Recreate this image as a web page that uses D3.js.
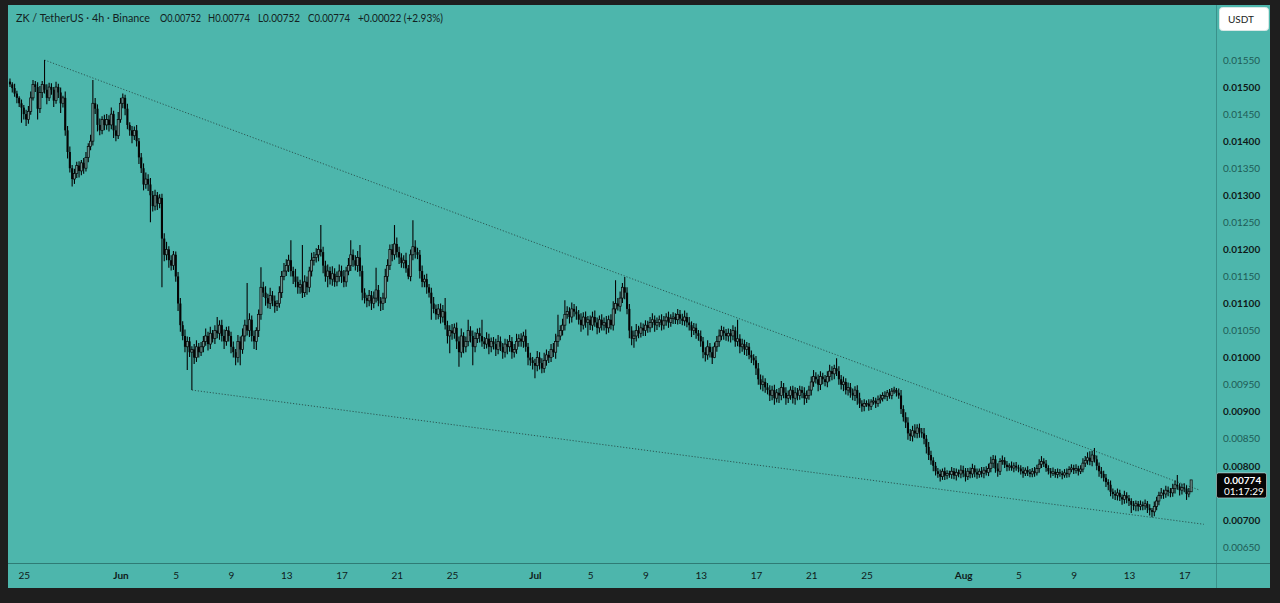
<!DOCTYPE html>
<html>
<head>
<meta charset="utf-8">
<script src="https://cdn.jsdelivr.net/npm/d3@7"></script>
<style>
  body { margin: 0; background: #1e1e1e; }
  svg { display: block; font-family: Lato, "Noto Sans", sans-serif; }
</style>
</head>
<body>
<svg id="chart" width="1280" height="603"></svg>
<script>
// prices are kept in units of 0.00001 USDT
const unit = 1e-5;
const firstOpen = 1510;
const startTime = "2025-05-24T00:00:00Z";

// 4h closes, one line per day (6 candles)
const closes = [
  1505,1498,1488,1480,1470,1462, 1450,1440,1455,1480,1505,1500, 1460,1490,1505,1495,1480,1500,
  1495,1475,1500,1490,1470,1480, 1420,1380,1350,1330,1340,1355, 1345,1360,1350,1370,1390,1400,
  1470,1460,1430,1420,1440,1430, 1440,1430,1450,1420,1410,1440, 1470,1480,1460,1430,1420,1410,
  1420,1400,1370,1350,1320,1330, 1320,1300,1280,1300,1285,1295, 1220,1190,1200,1180,1170,1190,
  1150,1100,1060,1040,1020,1030, 1010,1015,1000,1020,1010,1020, 1030,1040,1025,1045,1035,1050,
  1045,1060,1040,1030,1050,1040, 1020,1010,1000,1030,1015,1040, 1060,1050,1070,1040,1030,1050,
  1080,1130,1120,1110,1100,1115, 1105,1095,1100,1120,1150,1160, 1170,1180,1160,1150,1140,1130,
  1135,1120,1140,1130,1160,1180, 1185,1190,1200,1195,1170,1150, 1160,1145,1155,1140,1150,1160,
  1150,1140,1160,1170,1190,1180, 1170,1185,1160,1120,1110,1105, 1115,1100,1110,1125,1105,1100,
  1110,1150,1170,1200,1190,1210, 1195,1185,1175,1180,1165,1150, 1190,1205,1195,1190,1160,1140,
  1145,1130,1120,1100,1090,1080, 1090,1075,1085,1060,1040,1050, 1045,1055,1030,1010,1040,1020,
  1030,1050,1040,1020,1035,1045, 1040,1030,1025,1035,1020,1030, 1025,1015,1030,1020,1010,1025,
  1020,1030,1010,1015,1030,1035, 1030,1040,1020,1000,995,990,   985,1000,990,980,995,1005,
  1000,1015,1010,1030,1040,1050, 1060,1080,1085,1075,1090,1085, 1080,1070,1060,1075,1065,1070,
  1060,1075,1065,1055,1070,1060, 1065,1055,1070,1060,1090,1100, 1095,1110,1130,1120,1090,1050,
  1035,1040,1050,1045,1055,1050, 1060,1055,1065,1070,1060,1065, 1070,1060,1068,1075,1065,1072,
  1075,1070,1080,1072,1068,1075, 1065,1060,1050,1055,1045,1040, 1030,1010,1005,1020,1010,1000,
  1020,1030,1040,1050,1045,1040, 1045,1040,1050,1030,1035,1020, 1025,1015,1020,1005,1000,995,
  980,960,950,955,945,940,       930,940,925,935,930,945,       935,925,930,940,925,935,
  930,940,935,925,930,940,       955,965,960,950,965,960,       955,965,975,970,980,975,
  960,950,955,940,945,935,       930,940,925,915,910,915,       915,910,918,920,915,922,
  925,930,928,935,930,938,       940,935,930,905,890,880,       860,855,865,860,870,862,
  860,850,835,820,810,800,       790,785,780,790,782,786,       784,790,782,788,785,792,
  786,780,790,785,795,788,       784,790,786,792,788,795,       805,812,795,790,808,810,
  802,798,800,796,800,797,       795,790,786,792,788,785,       790,787,795,803,808,804,
  796,790,786,789,784,788,       786,783,787,785,793,796,       792,795,790,794,805,810,
  815,808,820,812,800,790,       785,778,770,765,752,748,       745,750,742,738,745,740,
  735,728,726,730,725,728,       726,730,722,718,715,725,       735,745,750,748,755,752,
  750,758,765,762,755,760,       758,748,752,774
];

// wick above the body top
const upWick = [
  6,4,8,5,3,7, 5,8,10,12,8,6, 9,12,6,45,10,8, 7,5,10,6,9,4, 12,8,10,6,9,7, 8,5,9,10,6,12,
  43,10,8,12,6,9, 10,8,12,6,9,14, 10,8,6,9,5,8, 7,10,6,8,9,12, 9,12,8,10,6,7, 8,10,14,6,9,7,
  6,8,10,7,12,9, 8,6,10,12,7,9, 10,14,8,12,6,10, 25,9,10,12,7,8, 8,10,6,12,9,14, 10,78,12,8,10,6,
  9,37,10,12,8,14, 8,10,6,12,10,15, 12,10,37,8,14,10, 9,73,12,10,8,14, 10,12,8,45,10,9, 12,8,14,10,9,12,
  10,12,8,14,27,10, 9,12,23,10,8,6, 10,8,12,41,9,7, 10,14,12,9,10,35, 12,10,8,9,14,6, 10,49,12,8,9,10,
  8,10,6,9,12,8, 9,10,12,25,8,10, 12,8,10,9,14,7, 9,20,8,10,12,9, 10,30,8,12,9,7, 8,10,12,9,7,10,
  9,12,8,10,14,8, 10,8,12,7,9,6, 8,12,10,9,14,10, 7,10,12,14,39,10, 12,26,10,8,12,9, 10,8,12,9,10,7,
  8,10,12,9,8,10, 9,12,8,10,14,43, 10,12,8,19,10,9, 8,10,12,9,10,8, 9,8,10,12,8,9, 8,10,9,7,10,8,
  9,7,10,8,9,12, 8,10,7,9,8,6, 10,8,9,12,7,10, 8,10,12,9,7,8, 9,8,10,7,35,8, 10,8,9,7,8,6,
  8,10,9,12,7,8, 9,8,10,7,9,12, 8,10,9,7,8,10, 9,8,7,10,9,8, 10,12,8,9,10,7, 8,10,12,9,7,19,
  9,8,10,7,9,8, 8,7,9,10,6,8, 6,8,5,7,6,8, 7,6,8,5,7,6, 6,4,8,10,7,9, 10,8,9,12,7,8,
  8,10,7,9,8,6, 7,6,8,5,7,6, 5,8,6,7,5,9, 8,10,6,7,9,6, 7,5,8,6,7,9, 12,8,7,10,6,9,
  6,7,5,8,6,7, 5,6,8,5,7,6, 6,8,7,9,10,6, 7,5,6,8,5,7, 6,5,7,8,6,7, 6,8,5,7,9,8,
  10,12,8,13,7,6, 8,6,7,5,8,6, 7,8,6,5,9,6, 6,5,7,6,5,8, 6,8,5,7,4,9, 8,7,9,6,8,7,
  7,9,8,18,6,7, 8,6,7,0
];

// wick below the body bottom
const downWick = [
  5,8,6,10,7,28, 10,12,8,6,5,9, 20,8,10,7,12,6, 9,12,6,10,18,8, 10,12,8,14,9,8, 12,8,10,6,9,7,
  8,10,12,9,7,10, 9,12,8,14,10,6, 6,9,12,8,10,14, 8,10,12,9,11,8, 12,50,10,8,12,9, 90,12,10,14,9,8,
  10,14,12,8,10,43, 9,70,12,8,10,7, 10,8,12,9,7,10, 9,12,10,14,8,10, 12,10,14,9,29,8, 10,9,12,10,14,16,
  12,10,8,14,9,10, 10,12,9,8,10,7, 9,12,10,14,10,12, 12,10,8,14,9,10, 10,9,12,8,14,10, 20,10,12,9,8,10,
  12,10,9,8,10,12, 9,12,10,14,10,12, 10,12,9,8,10,14, 12,9,10,8,12,9, 10,12,9,10,8,5, 9,10,12,8,14,10,
  10,12,9,30,8,10, 9,12,10,8,14,32, 12,10,14,27,10,12, 10,9,12,34,10,8, 12,10,9,8,14,10, 10,12,9,8,12,10,
  14,9,12,10,8,10, 10,12,9,14,10,12, 23,10,12,9,8,10, 10,8,9,12,10,8, 9,10,8,12,10,9, 10,9,12,8,10,24,
  9,10,8,12,9,10, 10,12,9,8,10,9, 8,10,9,12,10,14, 12,17,10,9,8,10, 10,9,8,10,12,9, 9,10,8,9,10,8,
  10,8,9,10,8,9, 9,10,12,8,10,9, 10,11,12,9,10,12, 1,9,10,8,12,9, 10,12,8,10,9,12, 9,10,12,8,10,9,
  12,10,9,12,10,8, 10,9,12,8,14,9, 10,12,9,8,10,12, 9,8,10,12,9,8, 10,9,8,12,10,9, 8,10,9,12,10,9,
  10,9,12,8,10,9, 9,10,12,8,10,9, 6,8,7,5,8,6, 7,6,5,8,6,7, 5,7,6,9,8,10, 12,9,10,8,9,10,
  8,10,12,9,8,10, 8,7,9,6,8,7, 6,8,7,9,6,8, 7,9,6,8,7,9, 8,6,7,9,6,7, 7,9,8,10,7,6,
  6,8,7,5,8,6, 7,6,8,5,7,6, 6,7,5,8,7,6, 7,6,8,5,6,7, 6,8,5,7,6,5, 7,6,8,5,6,7,
  8,7,9,6,8,10, 8,7,9,10,8,9, 8,9,7,10,8,9, 9,15,8,10,9,7, 8,7,9,10,10,8, 7,8,6,9,7,8,
  8,7,9,6,10,8, 7,11,6,0
];

// price scale labels (0.00750 sits under the last-price tag and is not shown)
const priceTicks = [0.0065, 0.007, 0.008, 0.0085, 0.009, 0.0095, 0.01, 0.0105,
  0.011, 0.0115, 0.012, 0.0125, 0.013, 0.0135, 0.014, 0.0145, 0.015, 0.0155];

// time scale labels
const dateTicks = ["2025-05-25", "2025-06-01", "2025-06-05", "2025-06-09", "2025-06-13",
  "2025-06-17", "2025-06-21", "2025-06-25", "2025-07-01", "2025-07-05", "2025-07-09",
  "2025-07-13", "2025-07-17", "2025-07-21", "2025-07-25", "2025-08-01", "2025-08-05",
  "2025-08-09", "2025-08-13", "2025-08-17"];

// drawn trend lines: [time, price]
const upperLine = [["2025-05-26T12:00:00Z", 0.0155], ["2025-08-18T03:00:00Z", 0.00755]];
const lowerLine = [["2025-06-06T04:00:00Z", 0.0094], ["2025-08-18T10:00:00Z", 0.00692]];

const headerParts = [
  { text: "ZK / TetherUS · 4h · Binance", x: 16, w: 134 },
  { text: "O0.00752", x: 160, w: 41 },
  { text: "H0.00774", x: 208, w: 42 },
  { text: "L0.00752", x: 258, w: 42 },
  { text: "C0.00774", x: 308, w: 42 },
  { text: "+0.00022 (+2.93%)", x: 358, w: 85 },
];
const lastPrice = 0.00774;
const countdown = "01:17:29";

const bg = "#4db6ac";
const frame = { left: 8, top: 5, right: 1270, bottom: 588 };
const plot = { left: 8, top: 5, right: 1216, bottom: 563 };

const t0 = new Date(startTime).getTime();
const candles = closes.map((c, i) => {
  const o = i ? closes[i - 1] : firstOpen;
  return {
    t: new Date(t0 + i * 4 * 3600 * 1000),
    o: o * unit,
    c: c * unit,
    h: (Math.max(o, c) + upWick[i]) * unit,
    l: (Math.min(o, c) - downWick[i]) * unit,
  };
});

const x = d3.scaleUtc()
  .domain([new Date("2025-06-01T00:00:00Z"), new Date("2025-08-01T00:00:00Z")])
  .range([120.5, 963.2]);
const y = d3.scaleLinear().domain([0.0065, 0.0155]).range([547, 60]);

const svg = d3.select("#chart");

svg.append("rect")
  .attr("x", frame.left).attr("y", frame.top)
  .attr("width", frame.right - frame.left).attr("height", frame.bottom - frame.top)
  .attr("fill", bg);

svg.append("clipPath").attr("id", "plotclip")
  .append("rect")
  .attr("x", plot.left).attr("y", plot.top)
  .attr("width", plot.right - plot.left).attr("height", plot.bottom - plot.top);

const g = svg.append("g").attr("clip-path", "url(#plotclip)");

// Trend lines
g.selectAll("line.trend")
  .data([upperLine, lowerLine])
  .enter().append("line")
  .attr("class", "trend")
  .attr("x1", d => x(new Date(d[0][0]))).attr("y1", d => y(d[0][1]))
  .attr("x2", d => x(new Date(d[1][0]))).attr("y2", d => y(d[1][1]))
  .attr("stroke", "#2b5753")
  .attr("stroke-width", 1)
  .attr("stroke-dasharray", "1.2,1.8");

// Candles
const bodyW = 2.1;
const cg = g.append("g");
cg.selectAll("line.wick")
  .data(candles)
  .enter().append("line")
  .attr("class", "wick")
  .attr("x1", d => x(d.t)).attr("x2", d => x(d.t))
  .attr("y1", d => y(d.h)).attr("y2", d => y(d.l))
  .attr("stroke", "#050505")
  .attr("stroke-width", 1.1);

cg.selectAll("rect.body")
  .data(candles)
  .enter().append("rect")
  .attr("class", "body")
  .attr("x", d => x(d.t) - bodyW / 2)
  .attr("width", bodyW)
  .attr("y", d => y(Math.max(d.o, d.c)))
  .attr("height", d => Math.max(1, Math.abs(y(d.o) - y(d.c))))
  .attr("fill", d => (d.c >= d.o ? "#6d9490" : "#050505"))
  .attr("stroke", "#050505")
  .attr("stroke-width", d => (d.c >= d.o ? 0.7 : 0));

// Separators
svg.append("line")
  .attr("x1", plot.right + 0.5).attr("x2", plot.right + 0.5)
  .attr("y1", frame.top).attr("y2", frame.bottom)
  .attr("stroke", "#3a918a").attr("stroke-width", 1);
svg.append("line")
  .attr("x1", frame.left).attr("x2", frame.right)
  .attr("y1", plot.bottom + 0.5).attr("y2", plot.bottom + 0.5)
  .attr("stroke", "#2f7b75").attr("stroke-width", 1);

// Price axis
const fmtPrice = d3.format(".5f");
const isMajor = v => Math.abs(Math.round(v * 1000) - v * 1000) < 1e-6;
const yAxis = svg.append("g")
  .attr("transform", `translate(${plot.right + 1},0)`)
  .call(d3.axisRight(y).tickValues(priceTicks).tickFormat(fmtPrice).tickSize(0).tickPadding(6));
yAxis.select(".domain").remove();
yAxis.selectAll("text")
  .attr("font-family", "Lato, 'Noto Sans', sans-serif")
  .attr("font-size", 10)
  .attr("font-weight", d => (isMajor(d) ? 700 : 400))
  .attr("fill", d => (isMajor(d) ? "#0f1a19" : "#1f5c56"));

// Time axis
const fmtMonth = d3.utcFormat("%b");
const fmtDay = d3.utcFormat("%-d");
const xAxis = svg.append("g")
  .attr("transform", `translate(0,${plot.bottom + 1})`)
  .call(d3.axisBottom(x)
    .tickValues(dateTicks.map(s => new Date(s + "T00:00:00Z")))
    .tickFormat(d => (d.getUTCDate() === 1 ? fmtMonth(d) : fmtDay(d)))
    .tickSize(0).tickPadding(8));
xAxis.select(".domain").remove();
xAxis.selectAll("text")
  .attr("font-family", "Lato, 'Noto Sans', sans-serif")
  .attr("font-size", 10)
  .attr("font-weight", d => (d.getUTCDate() === 1 ? 700 : 400))
  .attr("fill", "#0f1a19");

// Header
svg.append("g")
  .selectAll("text")
  .data(headerParts)
  .enter().append("text")
  .attr("x", d => d.x)
  .attr("y", 22)
  .attr("font-size", 11)
  .attr("fill", "#132221")
  .attr("textLength", d => d.w)
  .attr("lengthAdjust", "spacingAndGlyphs")
  .text(d => d.text);

// Currency button
svg.append("rect")
  .attr("x", 1219.5).attr("y", 7.5).attr("width", 49).attr("height", 23).attr("rx", 3)
  .attr("fill", "#ffffff").attr("stroke", "#d8e8e6");
svg.append("text")
  .attr("x", 1241).attr("y", 23)
  .attr("text-anchor", "middle")
  .attr("font-size", 10)
  .attr("fill", "#1a2423")
  .text("USDT");

// Last price label
const ly = y(lastPrice);
svg.append("rect")
  .attr("x", 1216.5).attr("y", ly - 7).attr("width", 50).attr("height", 25).attr("rx", 2)
  .attr("fill", "#050505").attr("stroke", "#cfd8d7").attr("stroke-width", 0.6);
svg.append("text")
  .attr("x", 1224).attr("y", ly + 4)
  .attr("font-size", 10).attr("font-weight", 700)
  .attr("fill", "#ffffff")
  .text(fmtPrice(lastPrice));
svg.append("text")
  .attr("x", 1224).attr("y", ly + 15)
  .attr("font-size", 10)
  .attr("fill", "#ffffff")
  .text(countdown);
</script>
</body>
</html>
